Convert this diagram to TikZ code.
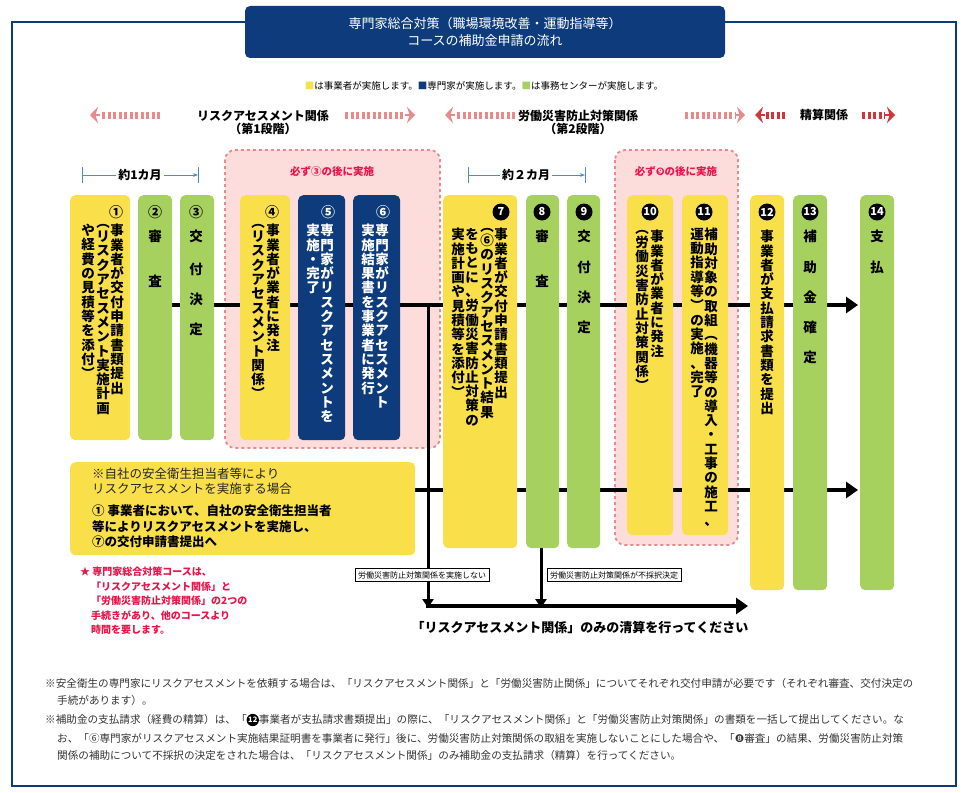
\documentclass[tikz,border=0pt]{standalone}
\usepackage{fontspec}
\setmainfont{Noto Sans CJK JP}
\newfontfamily\dv{DejaVu Sans}
\usetikzlibrary{arrows.meta}
\definecolor{titleblue}{HTML}{0D3B7C}
\definecolor{yelc}{HTML}{F9E04B}
\definecolor{grnc}{HTML}{A7D15F}
\definecolor{pinkf}{HTML}{FCDDDC}
\definecolor{pinkd}{HTML}{E88A8A}
\definecolor{redt}{HTML}{E8154A}
\definecolor{darkred}{HTML}{D3343A}
\definecolor{skyb}{HTML}{4A8CC8}
% one character per line
\def\vst#1{\vstx#1\relax}
\def\vstx#1{\ifx#1\relax\else#1\\\expandafter\vstx\fi}
\newcommand\bcirc[1]{\tikz[baseline=-0.65ex]\node[circle,fill=black,text=white,inner sep=0.6pt,minimum size=1.05em,font=\bfseries\fontsize{7.5}{7.5}\selectfont]{#1};}
\tikzset{
  colbox/.style={rounded corners=5pt, anchor=north west, inner sep=0},
  vline/.style={anchor=north, align=center, inner sep=0,
    font=\bfseries\fontsize{13.5}{14.3}\selectfont},
  numtxt/.style={font=\bfseries\fontsize{14}{14}\selectfont, inner sep=0},
  bnum/.style={circle, fill=black, text=white, inner sep=0, minimum size=17pt,
    font=\bfseries\fontsize{11}{11}\selectfont},
  flow/.style={line width=4.5pt, -{Triangle[length=12pt,width=16pt]}},
  sflow/.style={line width=3pt, -{Triangle[length=9pt,width=11pt]}},
  smallbox/.style={draw, line width=0.6pt, inner sep=3pt, font=\fontsize{8}{8}\selectfont, fill=white},
  note/.style={anchor=west, inner sep=0, font=\fontsize{10.6}{11}\selectfont, text=black!80},
  hdr/.style={align=center, font=\bfseries\fontsize{12}{13}\selectfont, inner sep=0},
  pinkbar/.style={line width=7pt, dash pattern=on 3pt off 2.5pt},
}
\begin{document}
\begin{tikzpicture}[x=1pt,y=-1pt]
\useasboundingbox (0,0) rectangle (968,792);
% frame and title
\draw[titleblue, line width=1.5pt] (12,22) rectangle (956,786);
\node[fill=titleblue, rounded corners=5pt, minimum width=480pt, minimum height=52pt, text=white,
  align=center, font=\fontsize{13}{17}\selectfont] (title) at (485,32)
  {専門家総合対策（職場環境改善・運動指導等）\\コースの補助金申請の流れ};
% legend
\node[inner sep=0, font=\fontsize{9.5}{9.5}\selectfont] (legend) at (484,86)
  {\textcolor{yelc}{■}は事業者が実施します。\textcolor{titleblue}{■}専門家が実施します。\textcolor{grnc}{■}は事務センターが実施します。};
% phase headings
\node[hdr] (ph1) at (263,122) {リスクアセスメント関係\\（第1段階）};
\node[hdr] (ph2) at (578,122) {労働災害防止対策関係\\（第2段階）};
\node[hdr] (ph3) at (824,115) {精算関係};
\draw[pinkd, pinkbar] (160,115) -- (100,115);
\draw[pinkd, -{Stealth[length=8pt,width=16pt]}, line width=2pt] (100,115) -- (90,115);
\draw[pinkd, pinkbar] (345,115) -- (405,115);
\draw[pinkd, -{Stealth[length=8pt,width=16pt]}, line width=2pt] (405,115) -- (415,115);
\draw[pinkd, pinkbar] (515,115) -- (455,115);
\draw[pinkd, -{Stealth[length=8pt,width=16pt]}, line width=2pt] (455,115) -- (445,115);
\draw[pinkd, pinkbar] (685,115) -- (735,115);
\draw[pinkd, -{Stealth[length=8pt,width=16pt]}, line width=2pt] (735,115) -- (745,115);
\draw[darkred, pinkbar] (785,115) -- (765,115);
\draw[darkred, -{Stealth[length=8pt,width=16pt]}, line width=2pt] (765,115) -- (755,115);
\draw[darkred, pinkbar] (862,115) -- (885,115);
\draw[darkred, -{Stealth[length=8pt,width=16pt]}, line width=2pt] (885,115) -- (895,115);
% dashed groups
\draw[pinkd, fill=pinkf, dashed, line width=1.8pt, rounded corners=10pt] (225,150) rectangle (440,448);
\draw[pinkd, fill=pinkf, dashed, line width=1.8pt, rounded corners=10pt] (615,150) rectangle (738,545);
\node[text=redt, font=\bfseries\fontsize{10.5}{11}\selectfont] (must1) at (332,172) {必ず③の後に実施};
\node[text=redt, font=\bfseries\fontsize{10.5}{11}\selectfont] (must2) at (676,172) {必ず{\dv ❾}の後に実施};
% durations
\node[font=\bfseries\fontsize{12}{12}\selectfont, fill=white, inner sep=2pt] (m1) at (140,175) {約1カ月};
\draw[skyb, line width=0.8pt] (82,167) -- (82,183) (198,167) -- (198,183);
\draw[skyb, line width=0.8pt] (82,175) -- (m1.west);
\draw[skyb, line width=0.8pt, -{Stealth[length=5pt]}] (m1.east) -- (198,175);
\node[font=\bfseries\fontsize{12}{12}\selectfont, fill=white, inner sep=2pt] (m2) at (526,175) {約２カ月};
\draw[skyb, line width=0.8pt] (468,167) -- (468,183) (585,167) -- (585,183);
\draw[skyb, line width=0.8pt] (468,175) -- (m2.west);
\draw[skyb, line width=0.8pt, -{Stealth[length=5pt]}] (m2.east) -- (585,175);
% flow lines
\coordinate (l1s) at (145,305); \coordinate (l1e) at (858,305);
\coordinate (l2s) at (410,490); \coordinate (l2e) at (858,490);
\coordinate (dn1) at (428,305); \coordinate (dn1e) at (428,608);
\coordinate (dn2) at (541,540); \coordinate (dn2e) at (541,608);
\coordinate (ls) at (426,606); \coordinate (le) at (748,606);
\draw[flow] (l1s) -- (l1e);
\draw[flow] (l2s) -- (l2e);
\draw[sflow] (dn1) -- (dn1e);
\draw[sflow] (dn2) -- (dn2e);
\draw[flow, line width=4pt] (ls) -- (le);
% columns
\node[colbox, fill=yelc, minimum width=60pt, minimum height=245pt] (c1) at (70,195) {};
\node[colbox, fill=grnc, minimum width=34pt, minimum height=245pt] (c2) at (138,195) {};
\node[colbox, fill=grnc, minimum width=34pt, minimum height=245pt] (c3) at (180,195) {};
\node[colbox, fill=yelc, minimum width=50pt, minimum height=245pt] (c4) at (240,195) {};
\node[colbox, fill=titleblue, minimum width=47pt, minimum height=245pt] (c5) at (298,195) {};
\node[colbox, fill=titleblue, minimum width=47pt, minimum height=245pt] (c6) at (353,195) {};
\node[colbox, fill=yelc, minimum width=74pt, minimum height=353pt] (c7) at (443,195) {};
\node[colbox, fill=grnc, minimum width=33pt, minimum height=353pt] (c8) at (526,195) {};
\node[colbox, fill=grnc, minimum width=33pt, minimum height=353pt] (c9) at (567,195) {};
\node[colbox, fill=yelc, minimum width=46pt, minimum height=340pt] (c10) at (627,195) {};
\node[colbox, fill=yelc, minimum width=46pt, minimum height=340pt] (c11) at (682,195) {};
\node[colbox, fill=yelc, minimum width=34pt, minimum height=395pt] (c12) at (750,195) {};
\node[colbox, fill=grnc, minimum width=34pt, minimum height=395pt] (c13) at (793,195) {};
\node[colbox, fill=grnc, minimum width=34pt, minimum height=395pt] (c14) at (860,195) {};
% numbers
\node[numtxt] (n1) at (116,212) {①};
\node[numtxt] (n2) at (155,212) {②};
\node[numtxt] (n3) at (196,212) {③};
\node[numtxt] (n4) at (272,212) {④};
\node[numtxt, text=white] (n5) at (328,212) {⑤};
\node[numtxt, text=white] (n6) at (383,212) {⑥};
\node[bnum] (n7) at (501,212) {7};
\node[bnum] (n8) at (542,212) {8};
\node[bnum] (n9) at (584,212) {9};
\node[bnum] (n10) at (650,212) {10};
\node[bnum] (n11) at (704,212) {11};
\node[bnum] (n12) at (767,212) {12};
\node[bnum] (n13) at (810,212) {13};
\node[bnum] (n14) at (877,212) {14};
% column texts, right to left
\node[vline] (t1a) at (117,224) {\vst{事業者が交付申請書類提出}};
\node[vline] (t1b) at (103,224) {\vst{︵リスクアセスメント実施計画}};
\node[vline] (t1c) at (88,224) {\vst{や経費の見積等を添付︶}};
\node[vline] (t2) at (155,230) {審\\[30pt]査};
\node[vline] (t3) at (196,230) {交\\[18pt]付\\[16pt]決\\[16pt]定};
\node[vline] (t4a) at (273,224) {\vst{事業者が業者に発注}};
\node[vline] (t4b) at (258,224) {\vst{︵リスクアセスメント関係︶}};
\node[vline, text=white] (t5a) at (327,224) {\vst{専門家がリスクアセスメントを}};
\node[vline, text=white] (t5b) at (313,224) {\vst{実施・完了}};
\node[vline, text=white] (t6a) at (382,224) {\vst{専門家がリスクアセスメント}};
\node[vline, text=white] (t6b) at (368,224) {\vst{実施結果書を事業者に発行}};
\node[vline] (t7a) at (501,228) {\vst{事業者が交付申請書類提出}};
\node[vline] (t7b) at (487,228) {\vst{︵⑥のリスクアセスメント結果}};
\node[vline] (t7c) at (472,228) {\vst{をもとに、労働災害防止対策の}};
\node[vline] (t7d) at (458,228) {\vst{実施計画や見積等を添付︶}};
\node[vline] (t8) at (542,230) {審\\[30pt]査};
\node[vline] (t9) at (584,230) {交\\[16pt]付\\[16pt]決\\[16pt]定};
\node[vline] (t10a) at (657,230) {\vst{事業者が業者に発注}};
\node[vline] (t10b) at (642,230) {\vst{︵労働災害防止対策関係︶}};
\node[vline] (t11a) at (711,228) {\vst{補助対象の取組︵機器等の導入・工事の施工、}};
\node[vline] (t11b) at (697,228) {\vst{運動指導等︶の実施、完了}};
\node[vline] (t12) at (767,230) {\vst{事業者が支払請求書類を提出}};
\node[vline] (t13) at (810,230) {補\\[16pt]助\\[16pt]金\\[16pt]確\\[16pt]定};
\node[vline] (t14) at (877,230) {支\\[16pt]払};
% in-house box
\node[colbox, fill=yelc, minimum width=345pt, minimum height=93pt] (own) at (70,462) {};
\node[anchor=north west, align=left, inner sep=0, font=\fontsize{12.5}{15}\selectfont, text=black!85] (ownh) at (92,468)
  {※自社の安全衛生担当者等により\\リスクアセスメントを実施する場合};
\node[anchor=north west, align=left, inner sep=0, font=\bfseries\fontsize{12.5}{15.5}\selectfont] (ownb) at (92,505)
  {①\ 事業者において、自社の安全衛生担当者\\等によりリスクアセスメントを実施し、\\⑦の交付申請書提出へ};
% side notes
\node[smallbox] (sb1) at (422,575) {労働災害防止対策関係を実施しない};
\node[smallbox] (sb2) at (614,575) {労働災害防止対策関係が不採択決定};
\node[font=\bfseries\fontsize{13}{13}\selectfont, inner sep=0] (only) at (580,627) {「リスクアセスメント関係」のみの清算を行ってください};
\node[anchor=north west, align=left, inner sep=0, text=redt, font=\bfseries\fontsize{10}{14.5}\selectfont] (star) at (80,567)
  {★ 専門家総合対策コースは、\\\hspace*{1.1em}「リスクアセスメント関係」と\\\hspace*{1.1em}「労働災害防止対策関係」の2つの\\\hspace*{1.1em}手続きがあり、他のコースより\\\hspace*{1.1em}時間を要します。};
% footnotes
\node[note] (f1) at (45,683) {※安全衛生の専門家にリスクアセスメントを依頼する場合は、「リスクアセスメント関係」と「労働災害防止関係」についてそれぞれ交付申請が必要です（それぞれ審査、交付決定の};
\node[note] (f2) at (57,700) {手続があります）。};
\node[note] (f3) at (45,720) {※補助金の支払請求（経費の精算）は、「\bcirc{12}事業者が支払請求書類提出」の際に、「リスクアセスメント関係」と「労働災害防止対策関係」の書類を一括して提出してください。な};
\node[note] (f4) at (57,738) {お、「⑥専門家がリスクアセスメント実施結果証明書を事業者に発行」後に、労働災害防止対策関係の取組を実施しないことにした場合や、「{\dv ❽}審査」の結果、労働災害防止対策};
\node[note] (f5) at (57,755) {関係の補助について不採択の決定をされた場合は、「リスクアセスメント関係」のみ補助金の支払請求（精算）を行ってください。};
\end{tikzpicture}
\end{document}
